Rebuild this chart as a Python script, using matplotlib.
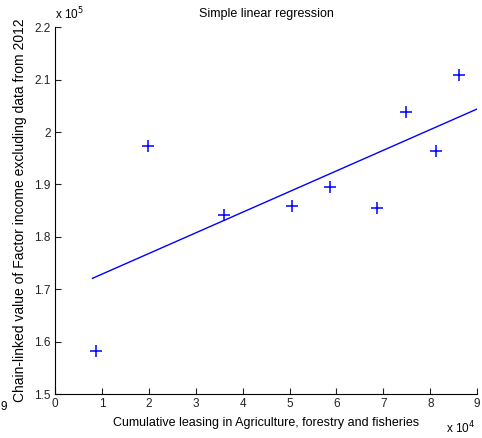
import matplotlib
matplotlib.use("Agg")
import matplotlib.pyplot as plt

plt.rcParams['font.family'] = ['Liberation Sans', 'DejaVu Sans']

# leasing (x 10^4) and factor income (x 10^5)
leasing = [0.87, 1.98, 3.60, 5.05, 5.86, 6.87, 7.48, 8.12, 8.61]
income = [1.583, 1.973, 1.841, 1.858, 1.895, 1.856, 2.038, 1.963, 2.108]

# regression line end points
fit_x = [0.80, 9.0]
fit_y = [1.721, 2.044]

xticks = [0, 1, 2, 3, 4, 5, 6, 7, 8, 9]
yticks = [1.5, 1.6, 1.7, 1.8, 1.9, 2.0, 2.1, 2.2]
ytick_labels = ['1.5', '1.6', '1.7', '1.8', '1.9', '2', '2.1', '2.2']

fig = plt.figure(figsize=(4.82, 4.38), dpi=100)
ax = fig.add_axes([0.114, 0.100, 0.876, 0.838])

ax.plot(leasing, income, '+', color='#0000ff', markersize=8, markeredgewidth=1.1)
ax.plot(fit_x, fit_y, '-', color='#0000ff', linewidth=1.0)

ax.set_xlim(0, 9)
ax.set_ylim(1.5, 2.2)
ax.set_xticks(xticks)
ax.set_yticks(yticks)
ax.set_yticklabels(ytick_labels)
ax.tick_params(direction='in', length=4, labelsize=8.5, pad=3, colors='#222222')
ax.spines['top'].set_visible(False)
ax.spines['right'].set_visible(False)

ax.set_title('Simple linear regression', fontsize=9, pad=7)
ax.set_xlabel('Cumulative leasing in Agriculture, forestry and fisheries', fontsize=9, labelpad=5)
ax.set_ylabel('Chain-linked value of Factor income excluding data from 2012', fontsize=10, labelpad=5)

fig.text(0.114, 0.955, r'x 10$^{5}$', fontsize=8.5)
fig.text(0.925, 0.01, r'x 10$^{4}$', fontsize=8.5)
fig.text(0.001, 0.065, '9', fontsize=8.5)

fig.savefig('out.png', dpi=100)
